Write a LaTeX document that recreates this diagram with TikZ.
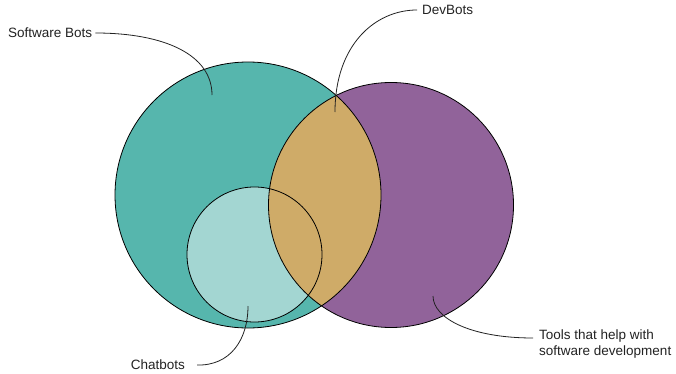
\documentclass[tikz,border=0pt]{standalone}
\usepackage{fontspec}
\setmainfont{Liberation Sans}
\definecolor{botteal}{HTML}{56B6AD}
\definecolor{devgold}{HTML}{CFAB68}
\definecolor{toolpurple}{HTML}{91639A}
\definecolor{chatteal}{HTML}{A3D6D2}
\definecolor{labelgray}{HTML}{222222}
\tikzset{
  setline/.style={draw=black,line width=0.8pt},
  lbl/.style={inner sep=0pt,text=labelgray,font=\fontsize{13.5}{16}\selectfont},
  leader/.style={draw=labelgray,line width=0.8pt},
}
\begin{document}
\begin{tikzpicture}[x=1pt,y=1pt]
    \useasboundingbox (0,0) rectangle (676,373);
    \coordinate (botsc) at (248,178);
    \coordinate (toolsc) at (391,168);
    \coordinate (chatc) at (254.5,118.5);

    \fill[botteal] (botsc) circle[radius=133];
    \fill[toolpurple] (toolsc) circle[radius=122.5];
    \fill[chatteal] (chatc) circle[radius=67.5];
    \begin{scope}
      \clip (botsc) circle[radius=133];
      \fill[devgold] (toolsc) circle[radius=122.5];
    \end{scope}
    \draw[setline] (botsc) circle[radius=133];
    \draw[setline] (toolsc) circle[radius=122.5];
    \draw[setline] (chatc) circle[radius=67.5];

    \node[lbl,anchor=west] (sbots) at (8,340) {Software Bots};
    \node[lbl,anchor=west] (devbots) at (422,363) {DevBots};
    \node[lbl,anchor=east] (chatbots) at (185,8) {Chatbots};
    \node[lbl,anchor=west,align=left] (tools) at (539,29) {Tools that help with\\software development};

    \coordinate (sbotsend) at (212,278);
    \coordinate (devend) at (335,261);
    \coordinate (chatend) at (248,67);
    \coordinate (toolsend) at (433,77);

    \draw[leader] ([xshift=3pt]sbots.east) .. controls (165,340) and (212,318) .. (sbotsend);
    \draw[leader] ([xshift=-5pt]devbots.west) .. controls (375,363) and (335,328) .. (devend);
    \draw[leader] ([xshift=12pt]chatbots.east) .. controls (230,7) and (248,33) .. (chatend);
    \draw[leader] ([xshift=-6pt,yshift=6pt]tools.west) .. controls (470,35) and (433,55) .. (toolsend);
\end{tikzpicture}
\end{document}
